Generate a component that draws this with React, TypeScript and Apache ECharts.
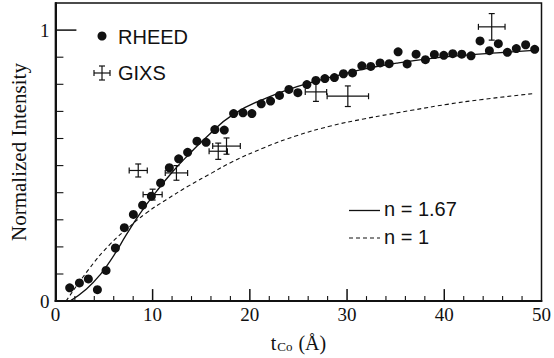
import React, { useEffect, useRef } from "react";
import * as echarts from "echarts";

// RHEED measurements (t_Co in Å, normalized intensity)
const rheedX = [1.47, 2.47, 3.39, 4.32, 5.21, 6.17, 7.09, 8.02, 8.97, 9.87, 10.82, 11.72, 12.68, 13.6, 14.56, 15.5, 16.4, 17.37, 18.33, 19.29, 20.21, 21.17, 22.13, 23.05, 24.02, 24.94, 25.87, 26.79, 27.72, 28.7, 29.63, 30.56, 31.52, 32.44, 33.4, 34.33, 35.25, 36.18, 37.1, 38.06, 38.98, 39.95, 40.87, 41.8, 42.75, 43.68, 44.64, 45.56, 46.49, 47.41, 48.37, 49.3];
const rheedY = [0.049, 0.067, 0.082, 0.042, 0.113, 0.196, 0.271, 0.32, 0.354, 0.387, 0.436, 0.492, 0.525, 0.549, 0.59, 0.586, 0.633, 0.631, 0.692, 0.695, 0.692, 0.728, 0.738, 0.759, 0.781, 0.769, 0.799, 0.814, 0.821, 0.825, 0.839, 0.842, 0.868, 0.866, 0.879, 0.876, 0.92, 0.875, 0.911, 0.891, 0.91, 0.907, 0.913, 0.911, 0.905, 0.96, 0.924, 0.95, 0.918, 0.932, 0.946, 0.929];

// GIXS measurements with error bars
const gixsX = [8.52, 10.0, 12.45, 16.75, 17.6, 26.8, 30.08, 44.88];
const gixsY = [0.482, 0.393, 0.473, 0.553, 0.572, 0.772, 0.756, 1.012];
const gixsXErr = [0.93, 0.98, 1.15, 0.94, 1.42, 1.1, 2.13, 1.37];
const gixsYErr = [0.024, 0.02, 0.027, 0.03, 0.03, 0.035, 0.038, 0.049];

// Fit curves
const fitN167X = [1.5, 3.2, 4.6, 6.0, 7.3, 8.7, 10.4, 12.1, 13.8, 15.5, 18.3, 21.8, 25.2, 28.5, 31.7, 35.1, 38.5, 42.0, 45.4, 49.2];
const fitN167Y = [0.0, 0.045, 0.097, 0.168, 0.245, 0.323, 0.405, 0.479, 0.544, 0.604, 0.689, 0.751, 0.795, 0.828, 0.856, 0.878, 0.895, 0.907, 0.916, 0.925];
const fitN1X = [1.1, 3.53, 5.58, 7.64, 9.35, 11.4, 13.8, 16.2, 18.2, 21.4, 24.8, 28.3, 31.7, 34.4, 36.8, 40.3, 43.7, 49.2];
const fitN1Y = [0.0, 0.122, 0.208, 0.275, 0.325, 0.374, 0.427, 0.475, 0.514, 0.565, 0.61, 0.646, 0.672, 0.69, 0.705, 0.726, 0.743, 0.766];

// Tick values
const xTicks = [0, 10, 20, 30, 40, 50];
const xMajorTicks = [10, 20, 30, 40];
const xMinorTicks = [2, 4, 6, 8, 12, 14, 16, 18, 22, 24, 26, 28, 32, 34, 36, 38, 42, 44, 46, 48];
const yMajorTicks = [1];
const yMinorTicks = [0.1, 0.2, 0.3, 0.4, 0.5, 0.6, 0.7, 0.8, 0.9];
const yTickLabels = ["0", "1"];

const legendLabels = ["RHEED", "GIXS", "n = 1.67", "n = 1"];

const INK = "#111";
const SERIF = "'Liberation Serif', 'DejaVu Serif', serif";
const SANS = "'Liberation Sans', 'DejaVu Sans', sans-serif";

export default function App() {
  const ref = useRef<HTMLDivElement>(null);

  useEffect(() => {
    if (!ref.current) return;
    const chart = echarts.init(ref.current, undefined, { renderer: "svg" });

    const rheed = rheedX.map((x, i) => [x, rheedY[i]]);
    const gixs = gixsX.map((x, i) => [x, gixsY[i], gixsXErr[i], gixsYErr[i]]);
    const fit1 = fitN167X.map((x, i) => [x, fitN167Y[i]]);
    const fit2 = fitN1X.map((x, i) => [x, fitN1Y[i]]);

    // [x, y, kind, length, width]: kind 0 = tick on x axis (vertical), 1 = tick on y axis (horizontal)
    const tickData = [
      ...xMajorTicks.map((v) => [v, 0, 0, 12, 1.5]),
      ...xMinorTicks.map((v) => [v, 0, 0, 5, 1.1]),
      ...yMajorTicks.map((v) => [0, v, 1, 21, 1.5]),
      ...yMinorTicks.map((v) => [0, v, 1, 8, 1.1]),
    ];

    const cap = 3;
    const errStyle = { stroke: INK, lineWidth: 1.2 };

    chart.setOption({
      animation: false,
      backgroundColor: "#fff",
      grid: {
        left: 55,
        right: 12,
        top: 3,
        bottom: 54.5,
        show: true,
        borderColor: INK,
        borderWidth: 1.5,
      },
      xAxis: {
        type: "value",
        min: 0,
        max: 50,
        interval: 10,
        axisLine: { lineStyle: { color: INK, width: 2 } },
        axisTick: { show: false },
        minorTick: { show: false },
        splitLine: { show: false },
        axisLabel: {
          color: INK,
          fontFamily: SERIF,
          fontSize: 19,
          margin: 4,
          formatter: (v: number) => (xTicks.includes(v) ? String(v) : ""),
        },
        name: "{t|t}{sub|Co}{t| (Å)}",
        nameLocation: "middle",
        nameGap: 27,
        nameTextStyle: {
          color: INK,
          fontFamily: SERIF,
          rich: {
            t: { fontSize: 20, fontFamily: SERIF, color: INK, verticalAlign: "top", lineHeight: 20 },
            sub: { fontSize: 13, fontFamily: SERIF, color: INK, verticalAlign: "bottom", lineHeight: 13, padding: [11, 1, 0, 1] },
          },
        },
      },
      yAxis: {
        type: "value",
        min: 0,
        max: 1.1,
        interval: 1,
        axisLine: { lineStyle: { color: INK, width: 2 } },
        axisTick: { show: false },
        minorTick: { show: false },
        splitLine: { show: false },
        axisLabel: {
          color: INK,
          fontFamily: SERIF,
          fontSize: 19,
          margin: 6,
          showMaxLabel: false,
          formatter: (v: number) => (v === 0 ? yTickLabels[0] : v === 1 ? yTickLabels[1] : ""),
        },
        name: "Normalized Intensity",
        nameLocation: "middle",
        nameGap: 26,
        nameTextStyle: { color: INK, fontFamily: SERIF, fontSize: 21 },
      },
      series: [
        {
          name: "ticks",
          type: "custom",
          data: tickData,
          silent: true,
          z: 5,
          renderItem: (params: any, api: any) => {
            const p = api.coord([api.value(0), api.value(1)]);
            const kind = api.value(2);
            const len = api.value(3);
            const w = api.value(4);
            const shape =
              kind === 0
                ? { x1: p[0], y1: p[1], x2: p[0], y2: p[1] - len }
                : { x1: p[0], y1: p[1], x2: p[0] + len, y2: p[1] };
            return { type: "line", shape, style: { stroke: INK, lineWidth: w } };
          },
        },
        {
          name: legendLabels[2],
          type: "line",
          data: fit1,
          smooth: 0.5,
          showSymbol: false,
          lineStyle: { color: INK, width: 1.3 },
          z: 2,
        },
        {
          name: legendLabels[3],
          type: "line",
          data: fit2,
          smooth: 0.5,
          showSymbol: false,
          lineStyle: { color: INK, width: 1.1, type: [4, 3] },
          z: 2,
        },
        {
          name: legendLabels[0],
          type: "scatter",
          data: rheed,
          symbol: "circle",
          symbolSize: 9,
          itemStyle: { color: INK, opacity: 1 },
          z: 3,
        },
        {
          name: legendLabels[1],
          type: "custom",
          data: gixs,
          z: 4,
          renderItem: (params: any, api: any) => {
            const x = api.value(0);
            const y = api.value(1);
            const xe = api.value(2);
            const ye = api.value(3);
            const c = api.coord([x, y]);
            const l = api.coord([x - xe, y]);
            const r = api.coord([x + xe, y]);
            const t = api.coord([x, y + ye]);
            const b = api.coord([x, y - ye]);
            const ln = (x1: number, y1: number, x2: number, y2: number) => ({
              type: "line",
              shape: { x1, y1, x2, y2 },
              style: errStyle,
            });
            return {
              type: "group",
              children: [
                ln(l[0], c[1], r[0], c[1]),
                ln(l[0], c[1] - cap, l[0], c[1] + cap),
                ln(r[0], c[1] - cap, r[0], c[1] + cap),
                ln(c[0], t[1], c[0], b[1]),
                ln(c[0] - cap, t[1], c[0] + cap, t[1]),
                ln(c[0] - cap, b[1], c[0] + cap, b[1]),
              ],
            };
          },
        },
      ],
      graphic: [
        { type: "circle", shape: { cx: 102, cy: 36, r: 4.5 }, style: { fill: INK } },
        {
          type: "text",
          x: 118,
          y: 37,
          style: { text: legendLabels[0], fill: INK, font: `20px ${SANS}`, verticalAlign: "middle" },
        },
        { type: "line", shape: { x1: 94, y1: 73, x2: 110, y2: 73 }, style: errStyle },
        { type: "line", shape: { x1: 94, y1: 70, x2: 94, y2: 76 }, style: errStyle },
        { type: "line", shape: { x1: 110, y1: 70, x2: 110, y2: 76 }, style: errStyle },
        { type: "line", shape: { x1: 102, y1: 66, x2: 102, y2: 80 }, style: errStyle },
        { type: "line", shape: { x1: 99, y1: 66, x2: 105, y2: 66 }, style: errStyle },
        { type: "line", shape: { x1: 99, y1: 80, x2: 105, y2: 80 }, style: errStyle },
        {
          type: "text",
          x: 118,
          y: 73,
          style: { text: legendLabels[1], fill: INK, font: `20px ${SANS}`, verticalAlign: "middle" },
        },
        { type: "line", shape: { x1: 349, y1: 210.5, x2: 380, y2: 210.5 }, style: { stroke: INK, lineWidth: 1.3 } },
        {
          type: "text",
          x: 384,
          y: 209,
          style: { text: legendLabels[2], fill: INK, font: `20px ${SANS}`, verticalAlign: "middle" },
        },
        {
          type: "line",
          shape: { x1: 349, y1: 238, x2: 380, y2: 238 },
          style: { stroke: INK, lineWidth: 1.1, lineDash: [4, 3] },
        },
        {
          type: "text",
          x: 384,
          y: 237,
          style: { text: legendLabels[3], fill: INK, font: `20px ${SANS}`, verticalAlign: "middle" },
        },
      ],
    });

    return () => chart.dispose();
  }, []);

  return <div ref={ref} style={{ width: 554, height: 358, position: "fixed", left: 0, top: 0 }} />;
}
